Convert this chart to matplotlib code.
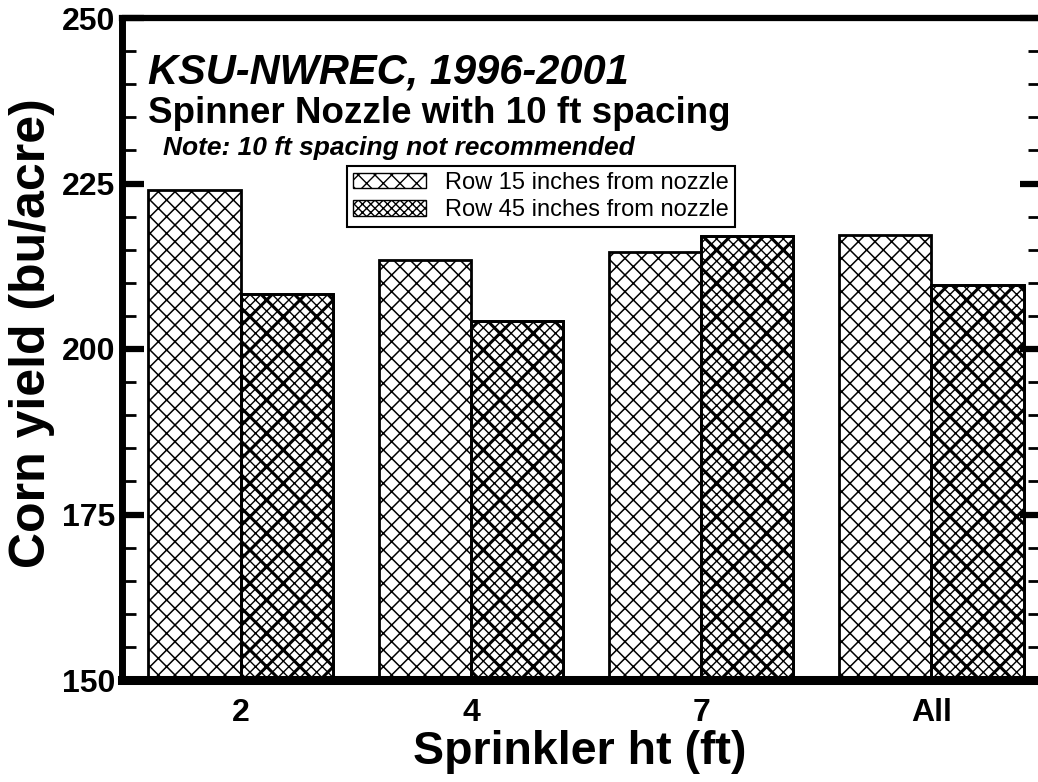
import numpy as np
import matplotlib.pyplot as plt
from matplotlib.patches import Patch
from matplotlib.ticker import MultipleLocator

# Data
heights = ['2', '4', '7', 'All']
row15 = [224.0, 213.5, 214.7, 217.2]
row45 = [208.3, 204.3, 217.0, 209.6]

fig = plt.figure(figsize=(10.38, 7.82), dpi=100)
ax = fig.add_axes([122 / 1038, 1 - 680 / 782, 920 / 1038, 662 / 782])

x = np.arange(len(heights))
w = 0.4


def hatch_lw(bars, lw):
    for b in bars:
        if hasattr(b, 'set_hatch_linewidth'):
            b.set_hatch_linewidth(lw)


plt.rcParams['hatch.linewidth'] = 1.1
b1 = ax.bar(x - w / 2, row15, w, color='white', edgecolor='black',
            hatch='xx', linewidth=2)
hatch_lw(b1, 1.1)
plt.rcParams['hatch.linewidth'] = 1.0
b2 = ax.bar(x + w / 2, row45, w, color='white', edgecolor='black',
            hatch='xxx', linewidth=2)
hatch_lw(b2, 1.0)
# heavier diagonal layer on the 45 inch bars
plt.rcParams['hatch.linewidth'] = 2.2
b3 = ax.bar(x + w / 2, row45, w, color='none', edgecolor='black',
            hatch='x', linewidth=2)
hatch_lw(b3, 2.2)
plt.rcParams['hatch.linewidth'] = 1.0

ax.set_ylim(150, 250)
ax.set_xlim(-0.515, 3.48)
ax.yaxis.set_major_locator(MultipleLocator(25))
ax.yaxis.set_minor_locator(MultipleLocator(5))
ax.tick_params(axis='y', which='major', direction='in', length=16, width=4.5,
               right=True, labelsize=23, pad=5)
ax.tick_params(axis='y', which='minor', direction='in', length=10, width=2,
               right=True)
ax.tick_params(axis='x', length=0, labelsize=23, pad=13)
ax.set_xticks(x)
ax.set_xticklabels(heights)
for lab in ax.get_xticklabels() + ax.get_yticklabels():
    lab.set_fontweight('bold')
    lab.set_family('Liberation Sans')

ax.spines['left'].set_linewidth(5)
ax.spines['top'].set_linewidth(4.5)
ax.spines['right'].set_linewidth(4.5)
ax.spines['bottom'].set_linewidth(6.5)

ax.set_ylabel('Corn yield (bu/acre)', fontsize=36, fontweight='bold',
              family='Liberation Sans', ha='center', va='center')
ax.yaxis.set_label_coords(-0.098, (680 - 333) / 662)
ax.set_xlabel('Sprinkler ht (ft)', fontsize=33.5, fontweight='bold',
              family='Liberation Sans', ha='center', va='center')
ax.xaxis.set_label_coords((580 - 122) / 920, -(752 - 680) / 662)

fig.text(148 / 1038, 1 - 84 / 782, 'KSU-NWREC, 1996-2001', fontsize=30,
         fontweight='bold', style='italic', family='Liberation Sans', va='baseline')
fig.text(148 / 1038, 1 - 123 / 782, 'Spinner Nozzle with 10 ft spacing', fontsize=26.5,
         fontweight='bold', family='Liberation Sans', va='baseline')
fig.text(163 / 1038, 1 - 155 / 782, 'Note: 10 ft spacing not recommended', fontsize=19,
         fontweight='bold', style='italic', family='Liberation Sans', va='baseline')

handles = [Patch(facecolor='white', edgecolor='black', hatch='xx', label='Row 15 inches from nozzle'),
           Patch(facecolor='white', edgecolor='black', hatch='xxxx', label='Row 45 inches from nozzle')]
leg = fig.legend(handles=handles, loc='upper left', bbox_to_anchor=(347 / 1038, 1 - 166 / 782),
                 borderaxespad=0,
                 prop={'family': 'Liberation Sans', 'size': 17}, fancybox=False,
                 edgecolor='black', framealpha=1, handlelength=3.1, handleheight=0.65,
                 borderpad=0.25, labelspacing=0.22, handletextpad=0.8)
leg.get_frame().set_linewidth(1.5)

fig.savefig('out.png', dpi=100)
